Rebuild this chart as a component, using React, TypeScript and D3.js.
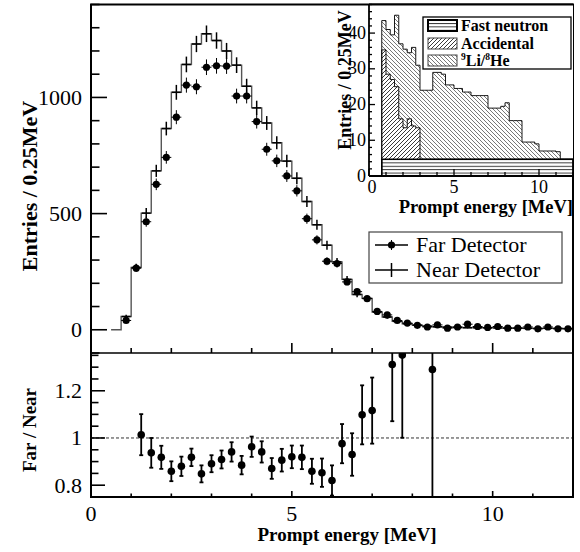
import React from 'react';
import * as d3 from 'd3';

// ---------------- DATA ----------------
const binWidth = 0.25;
// Far detector: bin centres start at 0.875 MeV
const farStart = 0.875;
const farCounts = [40, 265, 465, 626, 742, 915, 1053, 1046, 1130, 1136, 1135, 1006, 1006, 896, 777, 727, 662, 598, 478, 387, 295, 285, 206, 164, 134, 79, 64, 40, 29, 19, 12, 21, 7, 12, 24, 14, 10, 14, 7, 7, 12, 4, 12, 4, 4];
// Near detector histogram: bin low edges start at 0.5 MeV
const nearStart = 0.5;
const nearCounts = [0, 57, 268, 502, 684, 866, 1022, 1142, 1230, 1274, 1245, 1200, 1139, 1048, 955, 890, 805, 726, 652, 552, 452, 364, 292, 217, 152, 135, 76, 55, 36, 26, 20, 15, 13, 11, 10, 9, 9, 8, 8, 7, 7, 6, 6, 6, 6, 5];
// Far / Near ratio
const ratioEnergy = [1.25, 1.5, 1.75, 2.0, 2.25, 2.5, 2.75, 3.0, 3.25, 3.5, 3.75, 4.0, 4.25, 4.5, 4.75, 5.0, 5.25, 5.5, 5.75, 6.0, 6.25, 6.5, 6.75, 7.0, 7.5, 7.75, 8.5];
const ratioValue = [1.014, 0.937, 0.918, 0.859, 0.88, 0.918, 0.848, 0.891, 0.909, 0.941, 0.885, 0.963, 0.941, 0.871, 0.906, 0.92, 0.918, 0.859, 0.853, 0.82, 0.976, 0.93, 1.098, 1.116, 1.311, 1.351, 1.29];
const ratioError = [0.087, 0.063, 0.049, 0.042, 0.041, 0.037, 0.036, 0.036, 0.038, 0.041, 0.039, 0.043, 0.045, 0.044, 0.048, 0.048, 0.05, 0.053, 0.06, 0.064, 0.083, 0.09, 0.125, 0.14, 0.24, 0.35, 0.6];
// Inset backgrounds: bin low edges start at 0.75 MeV
const bkgStart = 0.75;
const fastNeutron = [4.7, 4.7, 4.7, 4.7, 4.7, 4.7, 4.7, 4.7, 4.7, 4.7, 4.7, 4.7, 4.7, 4.7, 4.7, 4.7, 4.7, 4.7, 4.7, 4.7, 4.7, 4.7, 4.7, 4.7, 4.7, 4.7, 4.7, 4.7, 4.7, 4.7, 4.7, 4.7, 4.7, 4.7, 4.7, 4.7, 4.7, 4.7, 4.7, 4.7, 4.7, 4.7, 4.7, 4.7, 4.7];
const accidental = [30.6, 23.8, 22.3, 20.3, 11.3, 8.8, 11.3, 9.3, 8.8, 0, 0, 0, 0, 0, 0, 0, 0, 0, 0, 0, 0, 0, 0, 0, 0, 0, 0, 0, 0, 0, 0, 0, 0, 0, 0, 0, 0, 0, 0, 0, 0, 0, 0, 0, 0];
const liHe = [8.2, 12.5, 12.5, 20, 21, 22, 18.5, 22, 17.5, 19.3, 19.3, 19.3, 24.3, 24.3, 23.8, 20.8, 20.8, 19.8, 19.8, 18.8, 18.8, 17.8, 17.8, 17.8, 17.8, 14.3, 14.3, 14.3, 14.8, 15.8, 10.8, 10.8, 10.8, 4.8, 4.8, 4.8, 4.3, 2.3, 2.3, 2.3, 2.3, 2.1, 0, 0, 0];

const xTitle = 'Prompt energy [MeV]';
const yTitle = 'Entries / 0.25MeV';
const ratioTitle = 'Far / Near';
const legendMain = ['Far Detector', 'Near Detector'];

// ---------------- LAYOUT ----------------
const W = 580, H = 552;
const FONT = "'Liberation Serif', 'Times New Roman', serif";
const xMain = d3.scaleLinear().domain([0, 12]).range([91, 573]);
const yMain = d3.scaleLinear().domain([-100, 1400]).range([353, 4.5]);
const yRatio = d3.scaleLinear().domain([0.75, 1.36]).range([497, 353]);
const xIn = d3.scaleLinear().domain([0, 12]).range([369, 573]);
const yIn = d3.scaleLinear().domain([0, 48]).range([176, 4.5]);

function stepPoints(start: number, vals: number[]) {
  const pts: [number, number][] = vals.map((v, i) => [start + i * binWidth, v]);
  pts.push([start + vals.length * binWidth, vals[vals.length - 1]]);
  return pts;
}

export default function App() {
  const nearLine = d3.line<[number, number]>()
    .x(d => xMain(d[0])).y(d => yMain(d[1])).curve(d3.curveStepAfter)(stepPoints(nearStart, nearCounts)) || '';

  // stacked inset
  const n = fastNeutron.length;
  const lvl1 = fastNeutron;
  const lvl2 = fastNeutron.map((v, i) => v + accidental[i]);
  const lvl3 = lvl2.map((v, i) => v + liHe[i]);
  const areaGen = (lo: number[], hi: number[]) => {
    const pts = stepPoints(bkgStart, hi).map((p, i) => ({ x: p[0], hi: p[1], lo: i < n ? lo[i] : lo[n - 1] }));
    return d3.area<{ x: number; hi: number; lo: number }>()
      .x(d => xIn(d.x)).y0(d => yIn(d.lo)).y1(d => yIn(d.hi)).curve(d3.curveStepAfter)(pts) || '';
  };
  const outline = (vals: number[]) => {
    const pts = stepPoints(bkgStart, vals);
    const p = d3.line<[number, number]>().x(d => xIn(d[0])).y(d => yIn(d[1])).curve(d3.curveStepAfter)(pts) || '';
    return `M${xIn(bkgStart)},${yIn(0)}L${p.slice(1)}L${xIn(bkgStart + n * binWidth)},${yIn(0)}`;
  };

  const xMajor = xMain.ticks(3);
  const xMinor = xMain.ticks(12);
  const yMajor = yMain.ticks(3);
  const yMinor = yMain.ticks(15);
  const rMajor = yRatio.ticks(3);
  const rMinor = yRatio.ticks(12);
  const iyMajor = yIn.ticks(5);
  const iyMinor = yIn.ticks(24);
  const ixMajor = xIn.ticks(3);
  const ixMinor = xIn.ticks(12);
  const fmt = (v: number) => String(+v.toFixed(2));

  return (
    <svg width={W} height={H} style={{ position: 'absolute', left: 0, top: 0, background: '#fff' }} fontFamily={FONT}>
      <defs>
        <pattern id="hFwd" patternUnits="userSpaceOnUse" width="4" height="4">
          <path d="M-1,1 l2,-2 M0,4 l4,-4 M3,5 l2,-2" stroke="#222" strokeWidth="0.9" />
        </pattern>
        <pattern id="hBack" patternUnits="userSpaceOnUse" width="4" height="4">
          <path d="M-1,3 l2,2 M0,0 l4,4 M3,-1 l2,2" stroke="#555" strokeWidth="0.8" />
        </pattern>
        <pattern id="hHor" patternUnits="userSpaceOnUse" width="4" height="3.4" y={yIn(0)}>
          <path d="M0,0.5 H4" stroke="#222" strokeWidth="0.9" />
        </pattern>
        <clipPath id="ratioClip"><rect x={91} y={353} width={482} height={144} /></clipPath>
      </defs>
      <rect x={0} y={0} width={W} height={H} fill="#fff" />

      {/* ---------- main panel ---------- */}
      <path d={nearLine} fill="none" stroke="#555" strokeWidth={1.4} />
      {nearCounts.map((v, i) => {
        if (v <= 0) return null;
        const cx = xMain(nearStart + (i + 0.5) * binWidth);
        const e = Math.sqrt(v);
        return (
          <g key={'n' + i} stroke="#000" strokeWidth={1.5}>
            <line x1={cx - 4.5} x2={cx + 4.5} y1={yMain(v)} y2={yMain(v)} />
            <line x1={cx} x2={cx} y1={yMain(v - e)} y2={yMain(v + e)} />
          </g>
        );
      })}
      {farCounts.map((v, i) => {
        const cx = xMain(farStart + i * binWidth);
        const e = Math.sqrt(v);
        return (
          <g key={'f' + i}>
            <line x1={cx - 5} x2={cx + 5} y1={yMain(v)} y2={yMain(v)} stroke="#000" strokeWidth={1} />
            <line x1={cx} x2={cx} y1={yMain(v - e)} y2={yMain(v + e)} stroke="#000" strokeWidth={1} />
            <circle cx={cx} cy={yMain(v)} r={3.6} fill="#000" />
          </g>
        );
      })}

      {/* main legend */}
      <rect x={369} y={232} width={193} height={51} fill="#fff" stroke="#444" strokeWidth={1.2} />
      <line x1={375} x2={408} y1={245} y2={245} stroke="#000" strokeWidth={1.5} />
      <line x1={391.5} x2={391.5} y1={240} y2={250} stroke="#000" strokeWidth={1} />
      <circle cx={391.5} cy={245} r={3.6} fill="#000" />
      <line x1={375} x2={408} y1={270} y2={270} stroke="#000" strokeWidth={1.5} />
      <line x1={391.5} x2={391.5} y1={263} y2={277} stroke="#000" strokeWidth={1.5} />
      <text x={416} y={252} fontSize={22}>{legendMain[0]}</text>
      <text x={416} y={277} fontSize={22}>{legendMain[1]}</text>

      {/* main axes ticks */}
      {yMinor.map(t => (
        <line key={'ym' + t} x1={91} x2={91 + (yMajor.includes(t) ? 16 : 8.5)} y1={yMain(t)} y2={yMain(t)} stroke="#000" strokeWidth={1.6} />
      ))}
      {yMajor.map(t => (
        <text key={'yl' + t} x={82} y={yMain(t) + 7.5} fontSize={22} textAnchor="end">{t}</text>
      ))}
      {xMinor.map(t => (
        <line key={'xm' + t} x1={xMain(t)} x2={xMain(t)} y1={353} y2={353 - (xMajor.includes(t) ? 10 : 5)} stroke="#000" strokeWidth={1.6} />
      ))}

      {/* ---------- ratio panel ---------- */}
      <line x1={91} x2={573} y1={yRatio(1)} y2={yRatio(1)} stroke="#333" strokeWidth={1} strokeDasharray="3,2" />
      <g clipPath="url(#ratioClip)">
        {ratioValue.map((v, i) => {
          const cx = xMain(ratioEnergy[i]);
          const e = ratioError[i];
          return (
            <g key={'r' + i} stroke="#000" strokeWidth={1.8}>
              <line x1={cx} x2={cx} y1={yRatio(v - e)} y2={yRatio(v + e)} />
              <line x1={cx - 2} x2={cx + 2} y1={yRatio(v - e)} y2={yRatio(v - e)} />
              <line x1={cx - 2} x2={cx + 2} y1={yRatio(v + e)} y2={yRatio(v + e)} />
              <circle cx={cx} cy={yRatio(v)} r={3.8} fill="#000" stroke="none" />
            </g>
          );
        })}
      </g>
      {rMinor.map(t => (
        <line key={'rm' + t} x1={91} x2={91 + (rMajor.some(m => Math.abs(m - t) < 1e-6) ? 14 : 7.5)} y1={yRatio(t)} y2={yRatio(t)} stroke="#000" strokeWidth={1.6} />
      ))}
      {rMajor.map(t => (
        <text key={'rl' + t} x={82} y={yRatio(t) + 7.5} fontSize={22} textAnchor="end">{fmt(t)}</text>
      ))}
      {xMinor.map(t => (
        <line key={'rx' + t} x1={xMain(t)} x2={xMain(t)} y1={497} y2={497 - (xMajor.includes(t) ? 6 : 3.5)} stroke="#000" strokeWidth={1.6} />
      ))}
      {xMajor.map(t => (
        <text key={'xl' + t} x={xMain(t)} y={521} fontSize={22} textAnchor="middle">{t}</text>
      ))}

      {/* frames */}
      <rect x={91} y={4.5} width={482} height={492.5} fill="none" stroke="#000" strokeWidth={2} />
      <line x1={91} x2={573} y1={353} y2={353} stroke="#000" strokeWidth={1.6} />

      {/* titles */}
      <text x={347} y={541} fontSize={19} fontWeight="bold" textAnchor="middle">{xTitle}</text>
      <text transform="translate(37,186) rotate(-90)" fontSize={22} fontWeight="bold" textAnchor="middle">{yTitle}</text>
      <text transform="translate(36,430) rotate(-90)" fontSize={19} fontWeight="bold" textAnchor="middle">{ratioTitle}</text>

      {/* ---------- inset ---------- */}
      <rect x={369} y={4.5} width={204} height={171.5} fill="#fff" />
      <path d={areaGen(fastNeutron.map(() => 0), lvl1)} fill="url(#hHor)" />
      <path d={areaGen(lvl1, lvl2)} fill="url(#hFwd)" />
      <path d={areaGen(lvl2, lvl3)} fill="url(#hBack)" />
      <path d={outline(lvl3)} fill="none" stroke="#000" strokeWidth={0.9} />
      <path d={outline(lvl2)} fill="none" stroke="#000" strokeWidth={0.9} />
      <path d={outline(lvl1)} fill="none" stroke="#000" strokeWidth={1.4} />

      {/* inset legend */}
      <rect x={423} y={17} width={148} height={52} fill="#fff" stroke="#000" strokeWidth={1.3} />
      <rect x={428} y={20} width={29} height={11} fill="url(#hHor)" stroke="#000" strokeWidth={2} />
      <rect x={428} y={38} width={29} height={11} fill="url(#hFwd)" stroke="#444" strokeWidth={1} />
      <rect x={428} y={55} width={29} height={11} fill="url(#hBack)" stroke="#444" strokeWidth={1} />
      <text x={461} y={31} fontSize={16} fontWeight="bold">Fast neutron</text>
      <text x={461} y={48.5} fontSize={16} fontWeight="bold">Accidental</text>
      <text x={461} y={66} fontSize={16} fontWeight="bold">
        <tspan fontSize={9.5} dy={-6}>9</tspan><tspan dy={6}>Li/</tspan><tspan fontSize={9.5} dy={-6}>8</tspan><tspan dy={6}>He</tspan>
      </text>

      {/* inset axes */}
      {iyMinor.map(t => (
        <line key={'iy' + t} x1={369} x2={369 + (iyMajor.includes(t) ? 6 : 3)} y1={yIn(t)} y2={yIn(t)} stroke="#000" strokeWidth={1.3} />
      ))}
      {iyMajor.map(t => (
        <text key={'iyl' + t} x={366} y={yIn(t) + 5.5} fontSize={18} textAnchor="end">{t}</text>
      ))}
      {ixMinor.map(t => (
        <line key={'ix' + t} x1={xIn(t)} x2={xIn(t)} y1={176} y2={176 - (ixMajor.includes(t) ? 7 : 4)} stroke="#000" strokeWidth={1.3} />
      ))}
      {ixMajor.map(t => (
        <text key={'ixl' + t} x={xIn(t) + (t === 0 ? 3 : 0)} y={193} fontSize={18} textAnchor="middle">{t}</text>
      ))}
      <line x1={369} x2={369} y1={4.5} y2={176} stroke="#000" strokeWidth={1.8} />
      <line x1={369} x2={573} y1={176} y2={176} stroke="#000" strokeWidth={1.8} />
      <line x1={369} x2={573} y1={4.5} y2={4.5} stroke="#000" strokeWidth={2} />
      <text x={573} y={213} fontSize={18.5} fontWeight="bold" textAnchor="end">{xTitle}</text>
      <text transform="translate(351,80) rotate(-90)" fontSize={18} fontWeight="bold" textAnchor="middle">{yTitle}</text>
    </svg>
  );
}
